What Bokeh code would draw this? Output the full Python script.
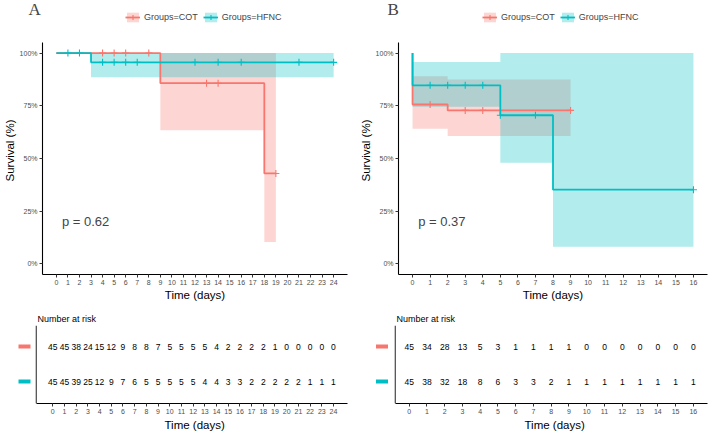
from bisect import bisect_right

import numpy as np
from bokeh.plotting import figure
from bokeh.layouts import row, column
from bokeh.models import (Range1d, FixedTicker, NumeralTickFormatter, Legend,
                          LegendItem, Label, Span, Title)
from bokeh.embed import file_html
from bokeh.resources import INLINE
from bokeh.core.properties import value

COT_COLOR = "#F8766D"
HFNC_COLOR = "#00BFC4"
FONT = "Liberation Sans"

# ---- Panel A: Kaplan-Meier steps (start time, survival, 95% CI) ----
a_cot_time = [0, 9, 18]
a_cot_surv = [1.0, 0.857, 0.429]
a_cot_lower = [1.0, 0.634, 0.104]
a_cot_upper = [1.0, 1.0, 1.0]
a_cot_end = 19
a_cot_censor = [4, 5, 6, 8, 13, 14, 19]

a_hfnc_time = [0, 3]
a_hfnc_surv = [1.0, 0.956]
a_hfnc_lower = [1.0, 0.885]
a_hfnc_upper = [1.0, 1.0]
a_hfnc_end = 24
a_hfnc_censor = [1, 2, 4, 5, 6, 7, 12, 14, 16, 21, 24]

a_pval = "p = 0.62"
a_days = list(range(0, 25))
a_risk_cot = [45, 45, 38, 24, 15, 12, 9, 8, 8, 7, 5, 5, 5, 5, 4, 2, 2, 2, 2, 1, 0, 0, 0, 0, 0]
a_risk_hfnc = [45, 45, 39, 25, 12, 9, 7, 6, 5, 5, 5, 5, 5, 4, 4, 3, 3, 2, 2, 2, 2, 2, 1, 1, 1]

# ---- Panel B ----
b_cot_time = [0, 0, 2]
b_cot_surv = [1.0, 0.756, 0.728]
b_cot_lower = [1.0, 0.641, 0.607]
b_cot_upper = [1.0, 0.890, 0.875]
b_cot_end = 9
b_cot_censor = [1, 3, 4, 9]

b_hfnc_time = [0, 0, 5, 8]
b_hfnc_surv = [1.0, 0.847, 0.705, 0.352]
b_hfnc_lower = [1.0, 0.745, 0.480, 0.082]
b_hfnc_upper = [1.0, 0.957, 1.0, 1.0]
b_hfnc_end = 16
b_hfnc_censor = [1, 2, 3, 4, 5, 7, 16]

b_pval = "p = 0.37"
b_days = list(range(0, 17))
b_risk_cot = [45, 34, 28, 13, 5, 3, 1, 1, 1, 1, 0, 0, 0, 0, 0, 0, 0]
b_risk_hfnc = [45, 38, 32, 18, 8, 6, 3, 3, 2, 1, 1, 1, 1, 1, 1, 1, 1]

group_names = ["Groups=COT", "Groups=HFNC"]
group_colors = [COT_COLOR, HFNC_COLOR]
risk_rows = [2, 1]          # table row of each group (COT on top)
y_ticks = [0, 0.25, 0.5, 0.75, 1.0]
x_title = "Time (days)"

# layout in pixels
HEAD_H = 26         # strip holding the panel letter and the legend
KM_H = 277          # survival figure height
KM_AXIS_GAP = 16    # gap between frame top and the top of the y axis
KM_BOTTOM = 29
RISK_H = 129
RISK_TOP = 22
RISK_BOTTOM = 29
ROW_GAP = 35        # pixels between the two rows of the risk table
RISK_Y_LO = 1 - 22 / ROW_GAP
RISK_Y_HI = RISK_Y_LO + (RISK_H - RISK_TOP - RISK_BOTTOM) / ROW_GAP


def step_points(times, vals, end):
    return list(times) + [end], list(vals) + [vals[-1]]


def ribbon_points(times, lo, hi, end):
    bounds = list(times) + [end]
    xs, y1, y2 = [], [], []
    for i in range(len(times)):
        xs += [bounds[i], bounds[i + 1]]
        y1 += [lo[i], lo[i]]
        y2 += [hi[i], hi[i]]
    return xs, y1, y2


def surv_at(times, surv, t):
    return surv[bisect_right(times, t) - 1]


def bare(p):
    p.xgrid.visible = False
    p.ygrid.visible = False
    p.outline_line_color = None


def style_axes(p, xmax):
    bare(p)
    for ax in p.axis:
        ax.axis_line_color = "black"
        ax.axis_line_width = 1.1
        ax.major_tick_line_color = "#333333"
        ax.major_tick_in = 0
        ax.major_tick_out = 3
        ax.minor_tick_line_color = None
        ax.major_label_text_font = FONT
        ax.major_label_text_font_size = "7px"
        ax.major_label_text_color = "#4D4D4D"
        ax.major_label_standoff = 2
        ax.axis_label_text_font = FONT
        ax.axis_label_text_font_size = "11.5px"
        ax.axis_label_text_font_style = "normal"
        ax.axis_label_text_color = "black"
        ax.axis_label_standoff = 1
    p.xaxis.ticker = FixedTicker(ticks=list(range(0, xmax + 1)))


def header_panel(letter, width, letter_x, legend_x):
    h = figure(width=width, height=HEAD_H, output_backend="svg", toolbar_location=None,
               x_range=Range1d(0, width), y_range=Range1d(0, HEAD_H),
               x_axis_type=None, y_axis_type=None, min_border=0, frame_align=False)
    bare(h)
    blank = np.array([np.nan])
    items = []
    for name, color in zip(group_names, group_colors):
        r = h.varea(x=blank, y1=blank, y2=blank, fill_color=color, fill_alpha=0.3)
        l = h.line(x=blank, y=blank, line_color=color, line_width=1.8)
        m = h.scatter(x=blank, y=blank, marker="cross", size=7, line_color=color,
                      line_width=1.1)
        items.append(LegendItem(label=name, renderers=[r, l, m]))
    legend = Legend(items=items, orientation="horizontal", location=(legend_x, 3),
                    label_text_font=FONT, label_text_font_size="9px",
                    glyph_width=15, glyph_height=12, spacing=5, label_standoff=4,
                    padding=0, margin=0, border_line_color=None,
                    background_fill_alpha=0)
    h.add_layout(legend, "center")
    h.add_layout(Label(x=letter_x, y=HEAD_H - 9, text=letter,
                       text_font="Liberation Serif", text_font_size="17px",
                       text_color="#444444", text_baseline="middle", text_align="left"))
    return h


def km_panel(width, bl, br, xmax, curves, pval):
    frame_h = KM_H - KM_BOTTOM
    per_px = 1.1 / (frame_h - KM_AXIS_GAP)
    y_top = 1.05 + KM_AXIS_GAP * per_px
    p = figure(width=width, height=KM_H, output_backend="svg", toolbar_location=None,
               x_range=Range1d(-0.05 * xmax, 1.05 * xmax), y_range=Range1d(-0.05, y_top),
               min_border_left=bl, min_border_right=br, min_border_top=0,
               min_border_bottom=KM_BOTTOM, frame_align=False)
    style_axes(p, xmax)
    p.xaxis.axis_label = x_title
    p.yaxis.ticker = FixedTicker(ticks=y_ticks)
    p.yaxis.formatter = NumeralTickFormatter(format="0%")
    p.yaxis.axis_label = "Survival (%)"
    p.yaxis.bounds = (-0.05, 1.05)

    for (t, s, lo, hi, end, cens, color) in curves:
        xs, y1, y2 = ribbon_points(t, lo, hi, end)
        p.varea(x=xs, y1=y1, y2=y2, fill_color=color, fill_alpha=0.3)
    for (t, s, lo, hi, end, cens, color) in curves:
        sx, sy = step_points(t, s, end)
        p.step(x=sx, y=sy, mode="after", line_color=color, line_width=1.8)
        cy = [surv_at(t, s, c) for c in cens]
        p.scatter(x=cens, y=cy, marker="cross", size=7, line_color=color, line_width=1.1)

    p.add_layout(Label(x=xmax / 50, y=0.2, text=pval, text_font=FONT,
                       text_font_size="13px", text_baseline="middle", text_align="left"))
    return p


def risk_keys(width, key_x):
    """Coloured strata keys standing left of the risk table."""
    k = figure(width=width, height=RISK_H, output_backend="svg", toolbar_location=None,
               x_range=Range1d(0, width), y_range=Range1d(RISK_Y_LO, RISK_Y_HI),
               x_axis_type=None, y_axis_type=None, min_border_left=0,
               min_border_right=0, min_border_top=RISK_TOP,
               min_border_bottom=RISK_BOTTOM, frame_align=False)
    bare(k)
    k.rect(x=[key_x] * len(risk_rows), y=risk_rows, width=12, height=4,
           width_units="screen", height_units="screen", fill_color=group_colors,
           line_color=None)
    return k


def risk_panel(width, br, xmax, x_axis_start, days, risk_cot, risk_hfnc, xtitle_offset):
    x_end = 1.05 * xmax
    scale = (width - br) / (x_end - x_axis_start)   # pixels per day
    x_lo = x_axis_start - 0.6 / scale
    p = figure(width=width, height=RISK_H, output_backend="svg", toolbar_location=None,
               x_range=Range1d(x_lo, x_end), y_range=Range1d(RISK_Y_LO, RISK_Y_HI),
               y_axis_type=None, min_border_left=0, min_border_right=br,
               min_border_top=RISK_TOP, min_border_bottom=RISK_BOTTOM,
               title="Number at risk", frame_align=False)
    p.title.text_font = FONT
    p.title.text_font_size = "9px"
    p.title.text_font_style = "normal"
    p.title.text_color = "black"
    p.title.align = "left"
    p.title.offset = 2
    p.title.standoff = 4
    style_axes(p, xmax)
    p.xaxis.bounds = (x_axis_start, x_end)
    # axis title under the tick labels, placed from the left edge of the table
    p.add_layout(Title(text=x_title, align="left", offset=xtitle_offset, text_font=FONT,
                       text_font_size="11.5px", text_font_style="normal",
                       text_color="black", standoff=0), "below")
    p.add_layout(Span(location=x_axis_start, dimension="height", line_color="black",
                      line_width=1.1))
    for yrow, counts in zip(risk_rows, (risk_cot, risk_hfnc)):
        p.text(x=days, y=[yrow] * len(days), text=[str(c) for c in counts],
               text_font=value(FONT), text_font_size="8.5px", text_align="center",
               text_baseline="middle", text_color="black")
    return p


curves_a = [
    (a_cot_time, a_cot_surv, a_cot_lower, a_cot_upper, a_cot_end, a_cot_censor, COT_COLOR),
    (a_hfnc_time, a_hfnc_surv, a_hfnc_lower, a_hfnc_upper, a_hfnc_end, a_hfnc_censor, HFNC_COLOR),
]
curves_b = [
    (b_cot_time, b_cot_surv, b_cot_lower, b_cot_upper, b_cot_end, b_cot_censor, COT_COLOR),
    (b_hfnc_time, b_hfnc_surv, b_hfnc_lower, b_hfnc_upper, b_hfnc_end, b_hfnc_censor, HFNC_COLOR),
]

head_a = header_panel("A", 354, 28, 125)
head_b = header_panel("B", 355, 33, 128)
km_a = km_panel(354, 40, 7, 24, curves_a, a_pval)
km_b = km_panel(355, 44, 2, 16, curves_b, b_pval)
keys_a = risk_keys(35, 24)
keys_b = risk_keys(40, 27.5)
risk_a = risk_panel(354 - 35, 7, 24, -1.43, a_days, a_risk_cot, a_risk_hfnc, 129)
risk_b = risk_panel(355 - 40, 2, 16, -0.79, b_days, b_risk_cot, b_risk_hfnc, 130)

layout = row(column(head_a, km_a, row(keys_a, risk_a)),
             column(head_b, km_b, row(keys_b, risk_b)))

with open("out.html", "w") as f:
    f.write(file_html(layout, INLINE))
